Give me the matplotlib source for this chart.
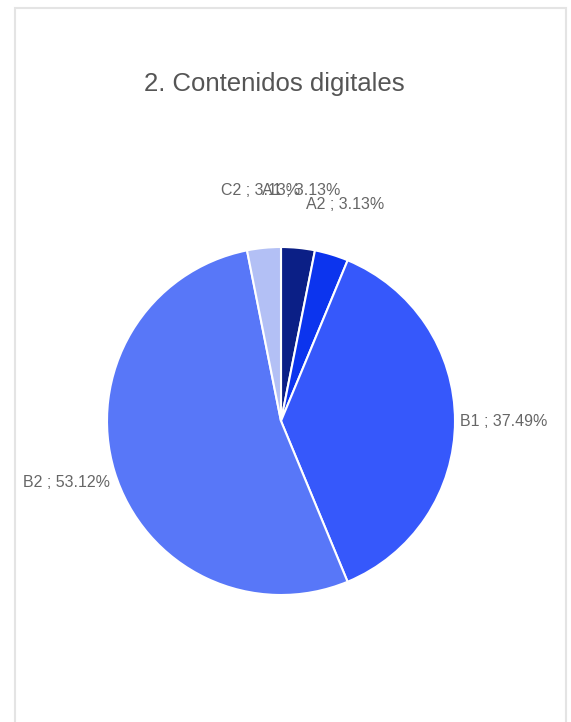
import numpy as np
import matplotlib.pyplot as plt
from matplotlib.patches import Rectangle

plt.rcParams['font.family'] = ['Liberation Sans', 'DejaVu Sans']

# datos
niveles = ['A1', 'A2', 'B1', 'B2', 'C2']
porcentajes = [3.13, 3.13, 37.49, 53.12, 3.13]
titulo = '2. Contenidos digitales'

colores = ['#0b1f86', '#0c34ee', '#3658fb', '#5877f8', '#b3c0f5']
# desplazamiento de etiquetas en px (dx, dy)
offsets = [(3, 52), (12, 45), (0, 0), (0, -9), (-3, 52)]

W, H = 571, 722
fig = plt.figure(figsize=(W / 100, H / 100), dpi=100)

# tarjeta
card = Rectangle((15 / W, -0.01), 551 / W, (H - 8) / H + 0.01, transform=fig.transFigure,
                 facecolor='white', edgecolor='#e4e4e4', lw=1.5, zorder=-5)
fig.patches.append(card)

fig.text(274 / W, 1 - 84 / H, titulo, ha='center', va='center', fontsize=18.5, color='#555555')

cx, cy, R = 281, 421, 174
ax = fig.add_axes([(cx - R) / W, (H - cy - R) / H, 2 * R / W, 2 * R / H], zorder=2)
ax.patch.set_visible(False)
wedges, _ = ax.pie(porcentajes, colors=colores, startangle=90, counterclock=False,
                   wedgeprops={'edgecolor': 'white', 'linewidth': 1.5})
ax.set_xlim(-1, 1)
ax.set_ylim(-1, 1)
ax.axis('off')

for w, lab, p, (dx, dy) in zip(wedges, niveles, porcentajes, offsets):
    ang = np.deg2rad((w.theta1 + w.theta2) / 2)
    x, y = 1.03 * np.cos(ang), 1.03 * np.sin(ang)
    if abs(np.cos(ang)) < 0.4:
        ha = 'center'
    else:
        ha = 'left' if x > 0 else 'right'
    ax.annotate(f'{lab} ; {p:.2f}%', (x, y), xytext=(dx * 0.72, dy * 0.72),
                textcoords='offset points', ha=ha, va='center',
                fontsize=11.5, color='#666666', annotation_clip=False)

plt.savefig('out.png', dpi=100)
